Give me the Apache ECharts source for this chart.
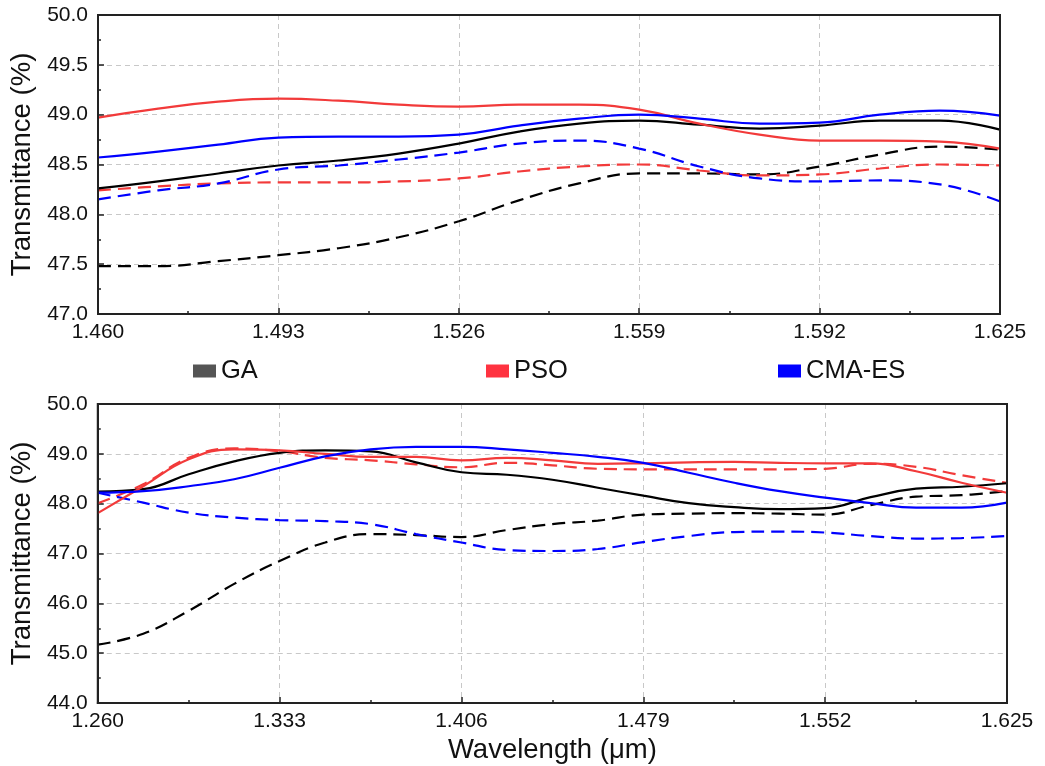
<!DOCTYPE html>
<html>
<head>
<meta charset="utf-8">
<script src="https://cdn.jsdelivr.net/npm/echarts@6/dist/echarts.min.js"></script>
<style>
  html, body { margin:0; padding:0; background:#fff; }
  #chart { width:1045px; height:766px; }
</style>
</head>
<body>
<div id="chart"></div>
<script>
// top panel: 1.460 - 1.625 um
const topX = [1.460,1.471,1.482,1.493,1.504,1.515,1.526,1.537,1.548,1.559,1.570,1.581,1.592,1.603,1.614,1.625];
const topGA      = [48.26,48.33,48.41,48.49,48.54,48.61,48.71,48.83,48.91,48.94,48.90,48.86,48.89,48.94,48.94,48.85];
const topPSO     = [48.97,49.06,49.13,49.16,49.14,49.10,49.08,49.10,49.10,49.05,48.91,48.80,48.74,48.74,48.73,48.66];
const topCMA     = [48.57,48.63,48.70,48.77,48.78,48.78,48.80,48.89,48.96,49.00,48.96,48.91,48.92,49.00,49.04,48.99];
const topGADash  = [47.48,47.48,47.53,47.59,47.66,47.77,47.93,48.14,48.31,48.41,48.41,48.40,48.48,48.60,48.68,48.65];
const topPSODash = [48.24,48.28,48.31,48.32,48.32,48.33,48.36,48.43,48.48,48.50,48.44,48.39,48.40,48.46,48.50,48.49];
const topCMADash = [48.15,48.24,48.31,48.45,48.49,48.55,48.62,48.71,48.74,48.66,48.48,48.36,48.33,48.34,48.30,48.13];

// bottom panel: 1.260 - 1.625 um
const botX = [1.26,1.27825,1.2965,1.31475,1.333,1.35125,1.3695,1.38775,1.406,1.42425,1.4425,1.46075,1.479,1.49725,1.5155,1.53375,1.552,1.57025,1.5885,1.60675,1.625];
const botGA      = [48.24,48.29,48.59,48.85,49.02,49.07,49.05,48.83,48.63,48.58,48.48,48.32,48.16,48.01,47.93,47.89,47.91,48.13,48.30,48.34,48.41];
const botPSO     = [47.81,48.35,48.89,49.09,49.07,49.00,48.94,48.94,48.87,48.92,48.87,48.80,48.81,48.83,48.84,48.82,48.81,48.81,48.65,48.42,48.22];
const botCMA     = [48.22,48.25,48.35,48.49,48.72,48.95,49.09,49.14,49.14,49.09,49.02,48.94,48.82,48.62,48.42,48.25,48.12,48.01,47.92,47.92,48.02];
const botGADash  = [45.17,45.39,45.85,46.39,46.85,47.22,47.39,47.37,47.33,47.47,47.59,47.66,47.78,47.80,47.81,47.80,47.78,47.97,48.14,48.17,48.25];
const botPSODash = [48.01,48.39,48.92,49.11,49.05,48.92,48.87,48.79,48.73,48.82,48.77,48.70,48.69,48.69,48.69,48.69,48.70,48.80,48.74,48.57,48.42];
const botCMADash = [48.22,48.02,47.82,47.72,47.67,47.65,47.59,47.39,47.22,47.07,47.05,47.09,47.23,47.35,47.43,47.44,47.42,47.35,47.30,47.31,47.35];

const legendNames = ['GA','PSO','CMA-ES'];
const lineColors = { 'GA':'#000000', 'PSO':'#f23a3a', 'CMA-ES':'#0000ff' };
const legendColors = { 'GA':'#555555', 'PSO':'#ff3340', 'CMA-ES':'#0000ff' };

const FONT = 'Liberation Sans, Arial, sans-serif';

function pairs(xs, ys) { return xs.map((x,i) => [x, ys[i]]); }

function mkSeries(name, xs, ys, idx, dashed) {
  return {
    type:'line', name: name, xAxisIndex: idx, yAxisIndex: idx,
    data: pairs(xs, ys), smooth: 0.45, showSymbol: false, symbol:'none',
    lineStyle: { color: lineColors[name], width: 2.2, type: dashed ? [13,7] : 'solid' },
    itemStyle: { color: lineColors[name] },
    z: dashed ? 2 : 3
  };
}

function xAxisOpt(idx, min, max, step, gap) {
  return {
    type:'value', gridIndex: idx, min: min, max: max, interval: step,
    axisLine: { show:true, onZero:false, lineStyle:{ color:'#222', width:2 } },
    axisTick: { show:true, inside:true, length:6, lineStyle:{ color:'#222', width:1.5 } },
    minorTick: { show:true, splitNumber:2, length:3, lineStyle:{ color:'#222', width:1.5 } },
    axisLabel: { color:'#111', fontSize:21, fontFamily:FONT, margin:8, formatter: v => v.toFixed(3) },
    splitLine: { show:true, showMinLine:false, showMaxLine:false, lineStyle:{ color:'#c8c8c8', type:[5,4], width:1 } },
    name: gap ? 'Wavelength (μm)' : '', nameLocation:'middle', nameGap: gap || 0,
    nameTextStyle: { color:'#111', fontSize:27.5, fontFamily:FONT }
  };
}

function yAxisOpt(idx, min, max, step, gap) {
  return {
    type:'value', gridIndex: idx, min: min, max: max, interval: step,
    axisLine: { show:true, lineStyle:{ color:'#222', width:2 } },
    axisTick: { show:true, inside:true, length:6, lineStyle:{ color:'#222', width:1.5 } },
    minorTick: { show:true, splitNumber:2, length:3, lineStyle:{ color:'#222', width:1.5 } },
    axisLabel: { color:'#111', fontSize:21, fontFamily:FONT, margin:10, formatter: v => v.toFixed(1) },
    splitLine: { show:true, showMinLine:false, showMaxLine:false, lineStyle:{ color:'#c8c8c8', type:[5,4], width:1 } },
    name:'Transmittance (%)', nameLocation:'middle', nameGap: gap,
    nameTextStyle: { color:'#111', fontSize:27.5, fontFamily:FONT }
  };
}

const legendLeft = [188, 481, 773];
const legends = legendNames.map((n, i) => ({
  left: legendLeft[i], top: 353, icon:'rect', itemWidth:23, itemHeight:13, itemGap:12,
  textStyle: { color:'#111', fontSize:25.5, fontFamily:FONT },
  data: [{ name:n, itemStyle:{ color: legendColors[n] } }],
  selectedMode: false
}));

const chart = echarts.init(document.getElementById('chart'));
chart.setOption({
  backgroundColor:'#fff',
  animation:false,
  legend: legends,
  grid: [
    { left:98, top:15, width:902, height:299, show:true, borderColor:'#222', borderWidth:2, backgroundColor:'transparent', z:5 },
    { left:92, top:404, width:915, height:299, show:true, borderColor:'#222', borderWidth:2, backgroundColor:'transparent', z:5 }
  ],
  xAxis: [ xAxisOpt(0, 1.460, 1.625, 0.033, 0), xAxisOpt(1, 1.260, 1.625, 0.073, 33) ],
  yAxis: [ yAxisOpt(0, 47.0, 50.0, 0.5, 57), yAxisOpt(1, 44.0, 50.0, 1.0, 53) ],
  series: [
    mkSeries('GA', topX, topGADash, 0, true),
    mkSeries('PSO', topX, topPSODash, 0, true),
    mkSeries('CMA-ES', topX, topCMADash, 0, true),
    mkSeries('GA', topX, topGA, 0, false),
    mkSeries('PSO', topX, topPSO, 0, false),
    mkSeries('CMA-ES', topX, topCMA, 0, false),
    mkSeries('GA', botX, botGADash, 1, true),
    mkSeries('PSO', botX, botPSODash, 1, true),
    mkSeries('CMA-ES', botX, botCMADash, 1, true),
    mkSeries('GA', botX, botGA, 1, false),
    mkSeries('PSO', botX, botPSO, 1, false),
    mkSeries('CMA-ES', botX, botCMA, 1, false)
  ]
});
window.addEventListener('resize', () => chart.resize());
</script>
</body>
</html>
